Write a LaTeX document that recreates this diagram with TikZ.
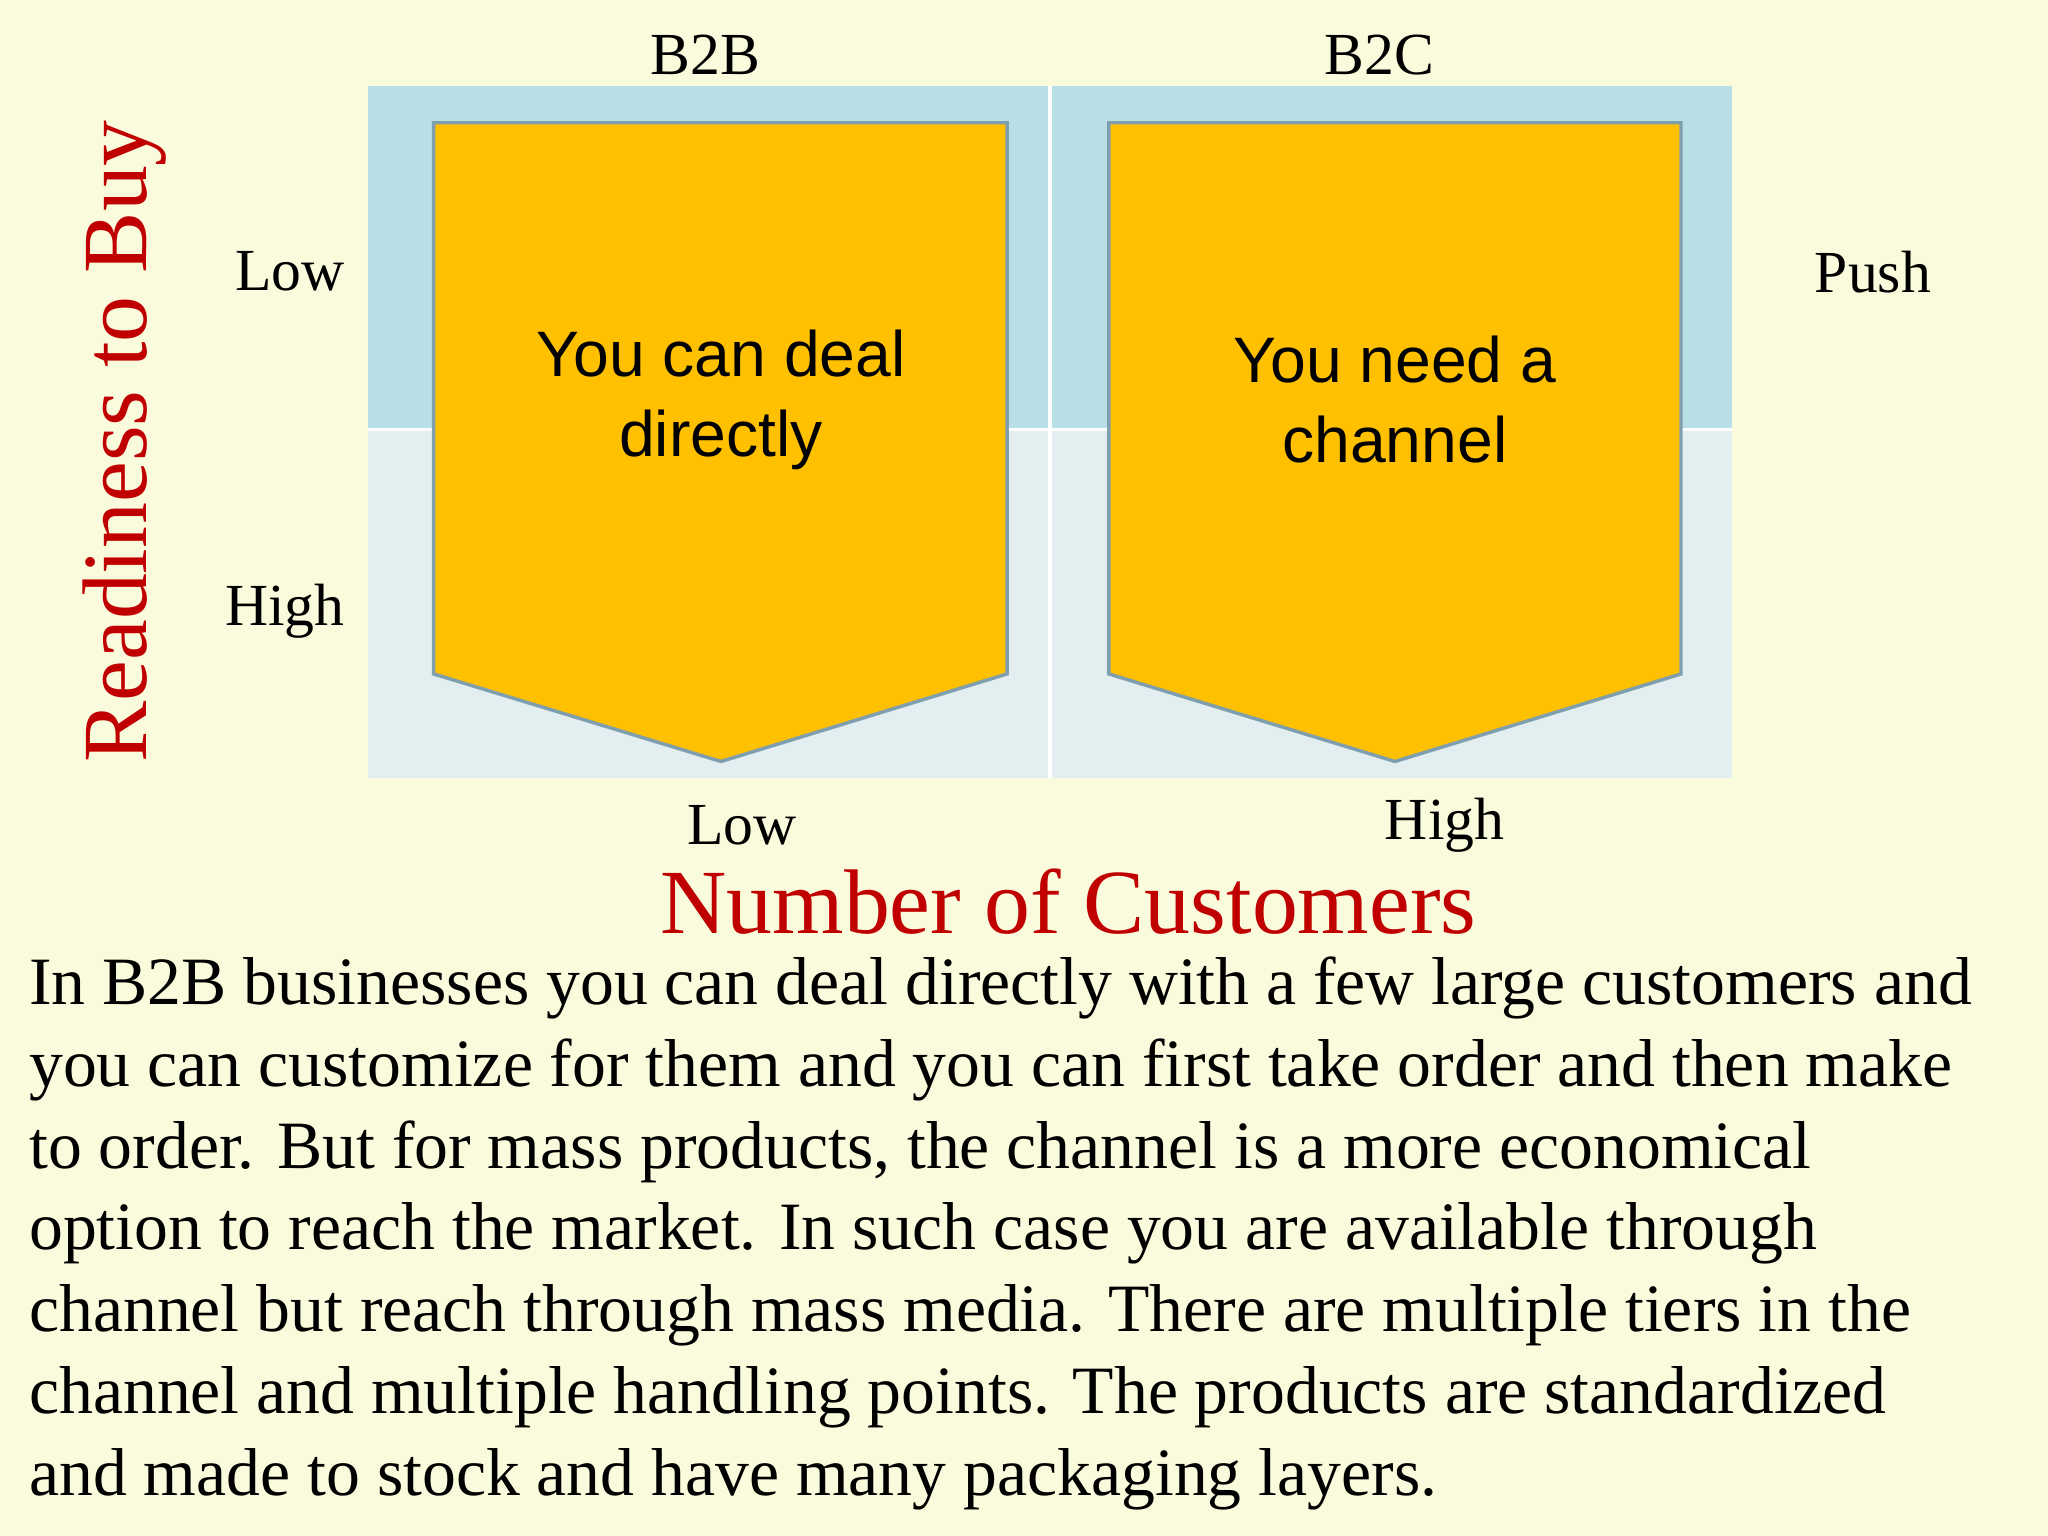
\documentclass[tikz,border=0pt]{standalone}
\usepackage{fontspec}
\setmainfont{Liberation Serif}
\newfontfamily\boxfont{Liberation Sans}
\definecolor{bg}{HTML}{FAFADC}
\definecolor{topc}{HTML}{B9DFE6}
\definecolor{botc}{HTML}{E3EEF0}
\definecolor{gold}{HTML}{FFC000}
\definecolor{edge}{HTML}{7F9FAF}
\definecolor{darkred}{HTML}{C00000}
\begin{document}
\begin{tikzpicture}[x=0.02cm,y=-0.02cm,
  lbl/.style={font=\fontsize{26}{30}\selectfont},
  axis/.style={font=\fontsize{40}{46}\selectfont,text=darkred},
  arrowbox/.style={fill=gold,draw=edge,line width=1.5pt},
  boxtxt/.style={font=\boxfont\fontsize{28}{35}\selectfont,align=center}]
\fill[bg] (0,0) rectangle (1568,1176);
\useasboundingbox (0,0) rectangle (1568,1176);
\fill[topc] (282,66) rectangle (1326,329);
\fill[botc] (282,329) rectangle (1326,596);
\draw[white,line width=1.5pt] (804,66) -- (804,596) (282,329) -- (1326,329);
\draw[arrowbox] (332,94) -- (771,94) -- (771,516) -- (552,583) -- (332,516) -- cycle;
\draw[arrowbox] (849,94) -- (1287,94) -- (1287,516) -- (1068,583) -- (849,516) -- cycle;
\node[boxtxt] (t1) at (552,306) {You can deal\\directly};
\node[boxtxt] (t2) at (1068,306) {You need a\\channel};
\node[lbl] (b2b) at (540,42) {B2B};
\node[lbl] (b2c) at (1056,42) {B2C};
\node[lbl] (low1) at (222,208) {Low};
\node[lbl] (high1) at (218,468) {High};
\node[lbl] (push) at (1434,208) {Push};
\node[lbl] (low2) at (568,632) {Low};
\node[lbl] (high2) at (1106,632) {High};
\node[axis,rotate=90] (rb) at (95,338) {Readiness to Buy};
\node[axis] (nc) at (818,690) {Number of Customers};
\node[anchor=north west,align=left,inner sep=0pt,font=\fontsize{29.5}{35.7}\selectfont] (body) at (22,732) {In B2B businesses you can deal directly with a few large customers and\\
you can customize for them and you can first take order and then make\\
to order. But for mass products, the channel is a more economical\\
option to reach the market. In such case you are available through\\
channel but reach through mass media. There are multiple tiers in the\\
channel and multiple handling points. The products are standardized\\
and made to stock and have many packaging layers.};
\end{tikzpicture}
\end{document}
